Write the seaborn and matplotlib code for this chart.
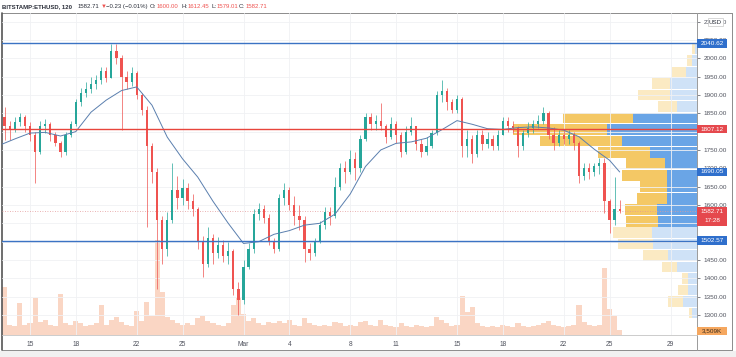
import numpy as np
import pandas as pd
import matplotlib
matplotlib.use("Agg")
import matplotlib.pyplot as plt
import matplotlib.dates as mdates
import matplotlib.transforms as mtransforms
from matplotlib.patches import Rectangle
from matplotlib.lines import Line2D
import seaborn as sns

# ---- data (BITSTAMP:ETHUSD, grouped into 8h candles) ----
first_time = "2021-02-13 08:00"
first_open = 1840
closes = [1815, 1805, 1825, 1840, 1815, 1790, 1745, 1815, 1820, 1790,
          1770, 1745, 1790, 1820, 1880, 1905, 1915, 1930, 1940, 1965,
          1945, 2020, 2000, 1950, 1935, 1960, 1900, 1860, 1760, 1690,
          1560, 1480, 1560, 1640, 1620, 1645, 1610, 1590, 1500, 1440,
          1510, 1470, 1490, 1460, 1475, 1370, 1340, 1430, 1480, 1575,
          1590, 1565, 1500, 1480, 1620, 1640, 1600, 1570, 1560, 1480,
          1470, 1500, 1545, 1580, 1570, 1650, 1700, 1690, 1725, 1700,
          1780, 1840, 1820, 1830, 1815, 1785, 1820, 1790, 1745, 1800,
          1815, 1765, 1745, 1760, 1795, 1900, 1910, 1880, 1860, 1890,
          1760, 1780, 1740, 1790, 1765, 1780, 1760, 1790, 1830, 1815,
          1810, 1760, 1795, 1810, 1820, 1830, 1850, 1790, 1770, 1790,
          1780, 1790, 1770, 1680, 1700, 1690, 1705, 1715, 1610, 1560,
          1590, 1582.71]
highs = [1867, 1830, 1840, 1850, 1845, 1825, 1800, 1830, 1835, 1825,
         1800, 1775, 1800, 1830, 1890, 1920, 1935, 1950, 1955, 1975,
         1975, 2040, 2040, 2010, 1965, 1975, 1965, 1905, 1870, 1770,
         1700, 1570, 1580, 1714, 1680, 1670, 1660, 1630, 1595, 1515,
         1540, 1520, 1512, 1505, 1500, 1480, 1390, 1450, 1495, 1590,
         1605, 1600, 1575, 1510, 1630, 1660, 1650, 1625, 1600, 1570,
         1495, 1510, 1555, 1595, 1595, 1677, 1715, 1720, 1750, 1745,
         1790, 1850, 1850, 1845, 1877, 1820, 1840, 1830, 1800, 1815,
         1840, 1815, 1780, 1785, 1805, 1910, 1941, 1920, 1890, 1900,
         1895, 1805, 1790, 1805, 1805, 1800, 1790, 1805, 1840, 1840,
         1830, 1815, 1805, 1825, 1832, 1845, 1867, 1855, 1813, 1805,
         1805, 1805, 1800, 1775, 1714, 1714, 1714, 1728, 1728, 1615,
         1677, 1612.45]
lows = [1778, 1777, 1800, 1815, 1800, 1775, 1660, 1740, 1795, 1775,
        1760, 1730, 1735, 1785, 1815, 1870, 1895, 1905, 1915, 1930,
        1935, 1945, 1985, 1805, 1915, 1925, 1890, 1845, 1540, 1660,
        1370, 1440, 1460, 1550, 1590, 1600, 1590, 1570, 1480, 1404,
        1430, 1440, 1455, 1445, 1440, 1355, 1300, 1330, 1425, 1470,
        1560, 1550, 1490, 1468, 1475, 1600, 1585, 1545, 1532, 1445,
        1450, 1460, 1495, 1535, 1545, 1565, 1640, 1660, 1685, 1667,
        1690, 1775, 1805, 1805, 1805, 1770, 1780, 1770, 1730, 1740,
        1790, 1750, 1731, 1735, 1755, 1790, 1880, 1860, 1850, 1850,
        1731, 1731, 1714, 1730, 1750, 1755, 1750, 1750, 1790, 1800,
        1795, 1731, 1750, 1785, 1795, 1810, 1820, 1780, 1750, 1760,
        1765, 1765, 1750, 1660, 1668, 1670, 1680, 1685, 1578, 1523,
        1545, 1579.01]
# volume in K
volumes = [37000, 8000, 7000, 25000, 8000, 9000, 29000, 10000, 12000, 8000,
           7000, 32000, 9000, 8000, 11000, 9000, 7000, 8000, 9000, 23000,
           8000, 12000, 14000, 10000, 8000, 7000, 19000, 11000, 26000, 15000,
           74000, 33000, 14000, 12000, 9000, 8000, 9000, 8000, 13000, 15000,
           11000, 9000, 8000, 7000, 9000, 23000, 29000, 16000, 11000, 13000,
           9000, 8000, 10000, 9000, 11000, 9000, 12000, 8000, 7000, 13000,
           9000, 8000, 7000, 8000, 7000, 10000, 9000, 7000, 8000, 7000,
           10000, 11000, 8000, 7000, 12000, 8000, 7000, 6000, 9000, 7000,
           6000, 8000, 7000, 6000, 7000, 14000, 12000, 9000, 7000, 8000,
           30000, 18000, 22000, 9000, 7000, 6000, 7000, 6000, 8000, 7000,
           6000, 9000, 7000, 6000, 7000, 8000, 9000, 11000, 8000, 7000,
           6000, 7000, 8000, 23000, 10000, 8000, 7000, 8000, 52000, 20000,
           15000, 3509]

# moving average, read once per day (Feb 13 .. Mar 25) plus the last bar
ma_values = [1763, 1780, 1796, 1798, 1788, 1800, 1853, 1886, 1912, 1922,
             1872, 1785, 1726, 1676, 1610, 1550, 1495, 1500, 1520, 1530,
             1545, 1550, 1575, 1630, 1705, 1750, 1768, 1772, 1782, 1805,
             1830, 1820, 1808, 1806, 1811, 1813, 1810, 1804, 1786, 1752,
             1722, 1690.05]

# visible-range volume profile, 24 rows from the top (2040.62) down
vp_high, vp_low = 2040.62, 1289.9
vp_up = [2, 5, 11, 27, 27, 20, 64, 90, 75, 47, 32, 30, 30, 30, 40, 39,
         45, 44, 29, 20, 9, 9, 14, 5]
vp_down = [3, 5, 14, 18, 32, 19, 70, 94, 82, 52, 39, 45, 27, 30, 32, 32,
           39, 35, 25, 15, 6, 10, 15, 3]
value_area_rows = list(range(6, 16))

blue_levels = [2040.62, 1502.57]
red_level = 1807.12
last_price = 1582.71
countdown = "17:28"
last_volume_label = "3,509K"

xtick_dates = ["2021-02-15", "2021-02-18", "2021-02-22", "2021-02-25", "2021-03-01",
               "2021-03-04", "2021-03-08", "2021-03-11", "2021-03-15", "2021-03-18",
               "2021-03-22", "2021-03-25", "2021-03-29"]
xtick_labels = ["15", "18", "22", "25", "Mar", "4", "8", "11", "15", "18", "22", "25", "29"]
price_ticks = list(range(1300, 2101, 50))
hidden_ticks = [1800, 1500]   # fully covered by the level tags

# ---- style ----
sns.set_theme(style="white")
plt.rcParams['font.family'] = ['Liberation Sans', 'DejaVu Sans']

UP, DOWN = '#26a69a', '#ef5350'
BLUE, RED = '#3b73c4', '#e8453c'
TXT = '#2a2e39'

W, H = 736, 357
fig = plt.figure(figsize=(W / 100, H / 100), dpi=100)
fig.patch.set_facecolor('white')

pl, pr, pt, pb = 2, 697, 13, 335
rect = [pl / W, 1 - pb / H, (pr - pl) / W, (pb - pt) / H]

ax = fig.add_axes(rect)
ax.set_zorder(3)
ax.patch.set_alpha(0)
ax_vol = fig.add_axes(rect, sharex=ax)
ax_vol.set_zorder(1)
ax_vp = fig.add_axes(rect, sharey=ax)
ax_vp.set_zorder(2)

# limits
base = mdates.date2num(pd.Timestamp("2021-02-15"))
day_px = 15.25
ax.set_xlim(base + (pl - 30) / day_px, base + (pr - 30) / day_px)
ylo, yhi = 1245.4, 2123.5
ax.set_ylim(ylo, yhi)
px_per_usd = (pb - pt) / (yhi - ylo)

# grid
for d in xtick_dates:
    ax.axvline(mdates.date2num(pd.Timestamp(d)), color='#f0f1f4', lw=0.6, zorder=0)
for p in price_ticks:
    ax.axhline(p, color='#f0f1f4', lw=0.6, zorder=0)

# volume
t = mdates.date2num(pd.date_range(first_time, periods=len(closes), freq="8h"))
ax_vol.bar(t, volumes, width=1 / 3, color='#f4a57c', alpha=0.45, lw=0)
ax_vol.set_ylim(0, 250000)
ax_vol.axis('off')

# volume profile
step = (vp_high - vp_low) / len(vp_up)
centers = [vp_high - (i + 0.5) * step for i in range(len(vp_up))]
for i, (c, u, d) in enumerate(zip(centers, vp_up, vp_down)):
    dark = i in value_area_rows
    ax_vp.barh(c, u, height=step * 0.93, left=0,
               color='#6aa5e6' if dark else '#cfe2f7', lw=0)
    ax_vp.barh(c, d, height=step * 0.93, left=u,
               color='#f4c865' if dark else '#fbeac3', lw=0)
ax_vp.set_xlim(pr - pl, 0)
ax_vp.axis('off')

# candles
opens = [first_open] + closes[:-1]
o, c, h, l = map(np.array, (opens, closes, highs, lows))
cols = [UP if cc >= oo else DOWN for oo, cc in zip(o, c)]
ax.vlines(t, l, h, colors=cols, lw=0.5, zorder=3)
ax.bar(t, np.maximum(np.abs(c - o), 1.5), bottom=np.minimum(o, c),
       width=0.15, color=cols, lw=0, zorder=4)

# moving average
ma_t = list(pd.date_range("2021-02-13", "2021-03-25", freq="D")) + [pd.Timestamp("2021-03-25 16:00")]
sns.lineplot(x=mdates.date2num(ma_t), y=ma_values, ax=ax, color='#5a7fae', lw=0.7, zorder=5)

# levels
for lv in blue_levels:
    ax.axhline(lv, color=BLUE, lw=1.0, zorder=6)
ax.axhline(red_level, color=RED, lw=1.0, zorder=6)
ax.axhline(last_price, color='#e39a9a', lw=0.6, ls=(0, (1, 2)), zorder=2)

# axes
ax.yaxis.tick_right()
ax.set_yticks(price_ticks)
ax.set_yticklabels(["" if p in hidden_ticks else f"{p:.2f}" for p in price_ticks])
ax.tick_params(axis='y', labelsize=4.6, colors='#50535e', length=2, pad=3, width=0.5)
ax.set_xticks([mdates.date2num(pd.Timestamp(d)) for d in xtick_dates])
ax.set_xticklabels(xtick_labels)
ax.tick_params(axis='x', labelsize=4.8, colors='#50535e', length=0, pad=4)
ax.set_xlabel('')
ax.set_ylabel('')
for s in ['top', 'left']:
    ax.spines[s].set_visible(False)
ax.spines['right'].set_color('#9a9a9a')
ax.spines['right'].set_linewidth(0.7)
ax.spines['bottom'].set_color('#c4c4c4')
ax.spines['bottom'].set_linewidth(0.6)
ax.set_ylim(ylo, yhi)

# right-hand price tags
tr = mtransforms.blended_transform_factory(ax.transAxes, ax.transData)
tag_w = 30 / (pr - pl)


def price_tag(price, text, face, fg='white', below=0):
    top = price + 4.2 / px_per_usd
    bot = price - (4.2 + below) / px_per_usd
    ax.add_patch(Rectangle((1.0, bot), tag_w, top - bot, transform=tr, facecolor=face,
                           edgecolor='none', clip_on=False, zorder=8))
    ax.text(1.0 + tag_w / 2, price, text, transform=tr, ha='center', va='center',
            fontsize=4.6, color=fg, clip_on=False, zorder=9)


price_tag(blue_levels[0], f"{blue_levels[0]:.2f}", '#2f6fcc')
price_tag(red_level, f"{red_level:.2f}", '#e5484d')
price_tag(ma_values[-1], f"{ma_values[-1]:.2f}", '#2f6fcc')
price_tag(blue_levels[1], f"{blue_levels[1]:.2f}", '#2f6fcc')
price_tag(last_price, f"{last_price:.2f}", '#e5484d', below=10)
ax.text(1.0 + tag_w / 2, last_price - 9 / px_per_usd, countdown, transform=tr,
        ha='center', va='center', fontsize=4.6, color='white', clip_on=False, zorder=9)

# volume tag
ax.add_patch(Rectangle((1.0, 0), tag_w, 8.3 / (pb - pt), transform=ax.transAxes,
                       facecolor='#f5a75f', edgecolor='none', clip_on=False, zorder=8))
ax.text(1.0 + tag_w / 2, 4.2 / (pb - pt), last_volume_label, transform=ax.transAxes,
        ha='center', va='center', fontsize=4.6, color='#3a2a1a', clip_on=False, zorder=9)

# USD box
ax.add_patch(Rectangle(((708 - pl) / (pr - pl), (pb - 26) / (pb - pt)), 15 / (pr - pl), 8 / (pb - pt),
                       transform=ax.transAxes, facecolor='white', edgecolor='#c8c8c8', lw=0.5,
                       clip_on=False, zorder=8))
ax.text((715.5 - pl) / (pr - pl), (pb - 22) / (pb - pt), "USD", transform=ax.transAxes,
        ha='center', va='center', fontsize=4.4, color=TXT, clip_on=False, zorder=9)

# header
hy = 1 - 6.5 / H
parts = [(2, "BITSTAMP:ETHUSD, 120", TXT, 'bold'), (78, "1582.71", TXT, 'normal'),
         (101, "\u25bc", DOWN, 'normal'), (106, "\u22120.23 (\u22120.01%)", TXT, 'normal'),
         (150, "O:", TXT, 'normal'), (157, "1600.00", DOWN, 'normal'),
         (181, "H:", TXT, 'normal'), (188, "1612.45", DOWN, 'normal'),
         (211, "L:", TXT, 'normal'), (217, "1579.01", DOWN, 'normal'),
         (239, "C:", TXT, 'normal'), (246, "1582.71", DOWN, 'normal')]
for x0, s, col, wt in parts:
    fig.text(x0 / W, hy, s, ha='left', va='center', fontsize=4.3, color=col, fontweight=wt)

# outer frame
for (x0, y0, x1, y1, col, lw) in [(2, 13, 732, 13, '#8c8c8c', 0.7), (732, 13, 732, 350, '#8c8c8c', 0.7),
                                  (2, 350, 732, 350, '#8c8c8c', 0.7), (2, 13, 2, 350, '#555555', 1.2),
                                  (697, 335, 697, 350, '#9a9a9a', 0.7)]:
    fig.add_artist(Line2D([x0 / W, x1 / W], [1 - y0 / H, 1 - y1 / H], color=col, lw=lw))
fig.add_artist(Rectangle((0, 0), 1, 1 - 351 / H, transform=fig.transFigure,
                         facecolor='#f1f1f1', edgecolor='none'))

fig.savefig("out.png", dpi=100)
